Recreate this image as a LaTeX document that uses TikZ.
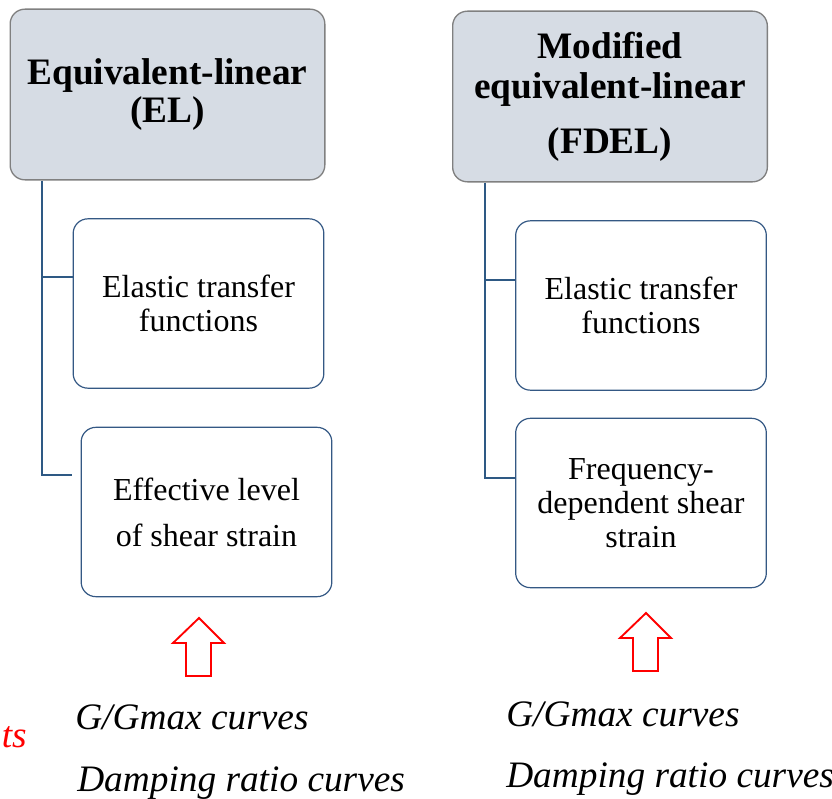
\documentclass[tikz,border=0pt]{standalone}
\usepackage{fontspec}
\setmainfont{Liberation Serif}
\definecolor{hdrfill}{RGB}{214,220,228}
\definecolor{hdrline}{RGB}{128,128,128}
\definecolor{boxline}{RGB}{52,88,132}
\definecolor{connline}{RGB}{46,89,132}
\tikzset{
  hdrbox/.style={draw=hdrline, line width=1pt, fill=hdrfill, rounded corners=11pt,
    minimum width=236pt, minimum height=128pt, inner sep=0pt, align=center,
    font=\fontsize{28}{30}\selectfont\bfseries},
  subbox/.style={draw=boxline, line width=0.9pt, fill=white, rounded corners=11pt,
    minimum width=188pt, minimum height=127pt, inner sep=0pt, align=center,
    font=\fontsize{24}{25.5}\selectfont},
  conn/.style={draw=connline, line width=1.8pt},
  uparrow/.style={draw=red, line width=1.4pt, fill=white},
  curvelabel/.style={anchor=base west, inner sep=0pt, font=\fontsize{28}{30}\selectfont\itshape},
}
\begin{document}
\begin{tikzpicture}[x=0.75pt, y=-0.75pt]
\useasboundingbox (0,0) rectangle (832,799);

% header boxes
\node[hdrbox] (hdrL) at (167.5,94.5) {Equivalent-linear\\[-1.5pt](EL)};
\node[hdrbox] (hdrR) at (610,96.5) {Modified\\equivalent-linear\\[11pt](FDEL)};

% method components
\node[subbox] (L1) at (198.5,303.5) {Elastic transfer\\functions};
\node[subbox] (L2) at (206.5,512) {Effective level\\[9pt]of shear strain};
\node[subbox] (R1) at (641,305.5) {Elastic transfer\\functions};
\node[subbox] (R2) at (641,503) {Frequency-\\dependent shear\\strain};

% tree connectors
\coordinate (spineL) at (42,0);
\coordinate (bL1) at (42,277);
\coordinate (bL2) at (42,475);
\coordinate (eL2) at (72,475);
\draw[conn] (spineL |- hdrL.south) -- (bL2) -- (eL2);
\draw[conn] (bL1) -- (L1.west |- bL1);

\coordinate (spineR) at (485,0);
\coordinate (bR1) at (485,280);
\coordinate (bR2) at (485,478);
\draw[conn] (spineR |- hdrR.south) -- (bR2) -- (R2.west |- bR2);
\draw[conn] (bR1) -- (R1.west |- bR1);

% hollow red input arrows
\draw[uparrow] (199,618) -- (224,643) -- (211,643) -- (211,676) -- (186,676) -- (186,643) -- (173,643) -- cycle;
\draw[uparrow] (646,613) -- (671,638) -- (658,638) -- (658,671) -- (633,671) -- (633,638) -- (620,638) -- cycle;

% soil curve inputs
\node[curvelabel] (gL) at (75,729) {G/Gmax curves};
\node[curvelabel] (dL) at (77,791) {Damping ratio curves};
\node[curvelabel] (gR) at (506,726) {G/Gmax curves};
\node[curvelabel] (dR) at (506,787) {Damping ratio curves};
\node[curvelabel, anchor=base east, text=red] (inp) at (27,747) {ts};
\end{tikzpicture}
\end{document}
